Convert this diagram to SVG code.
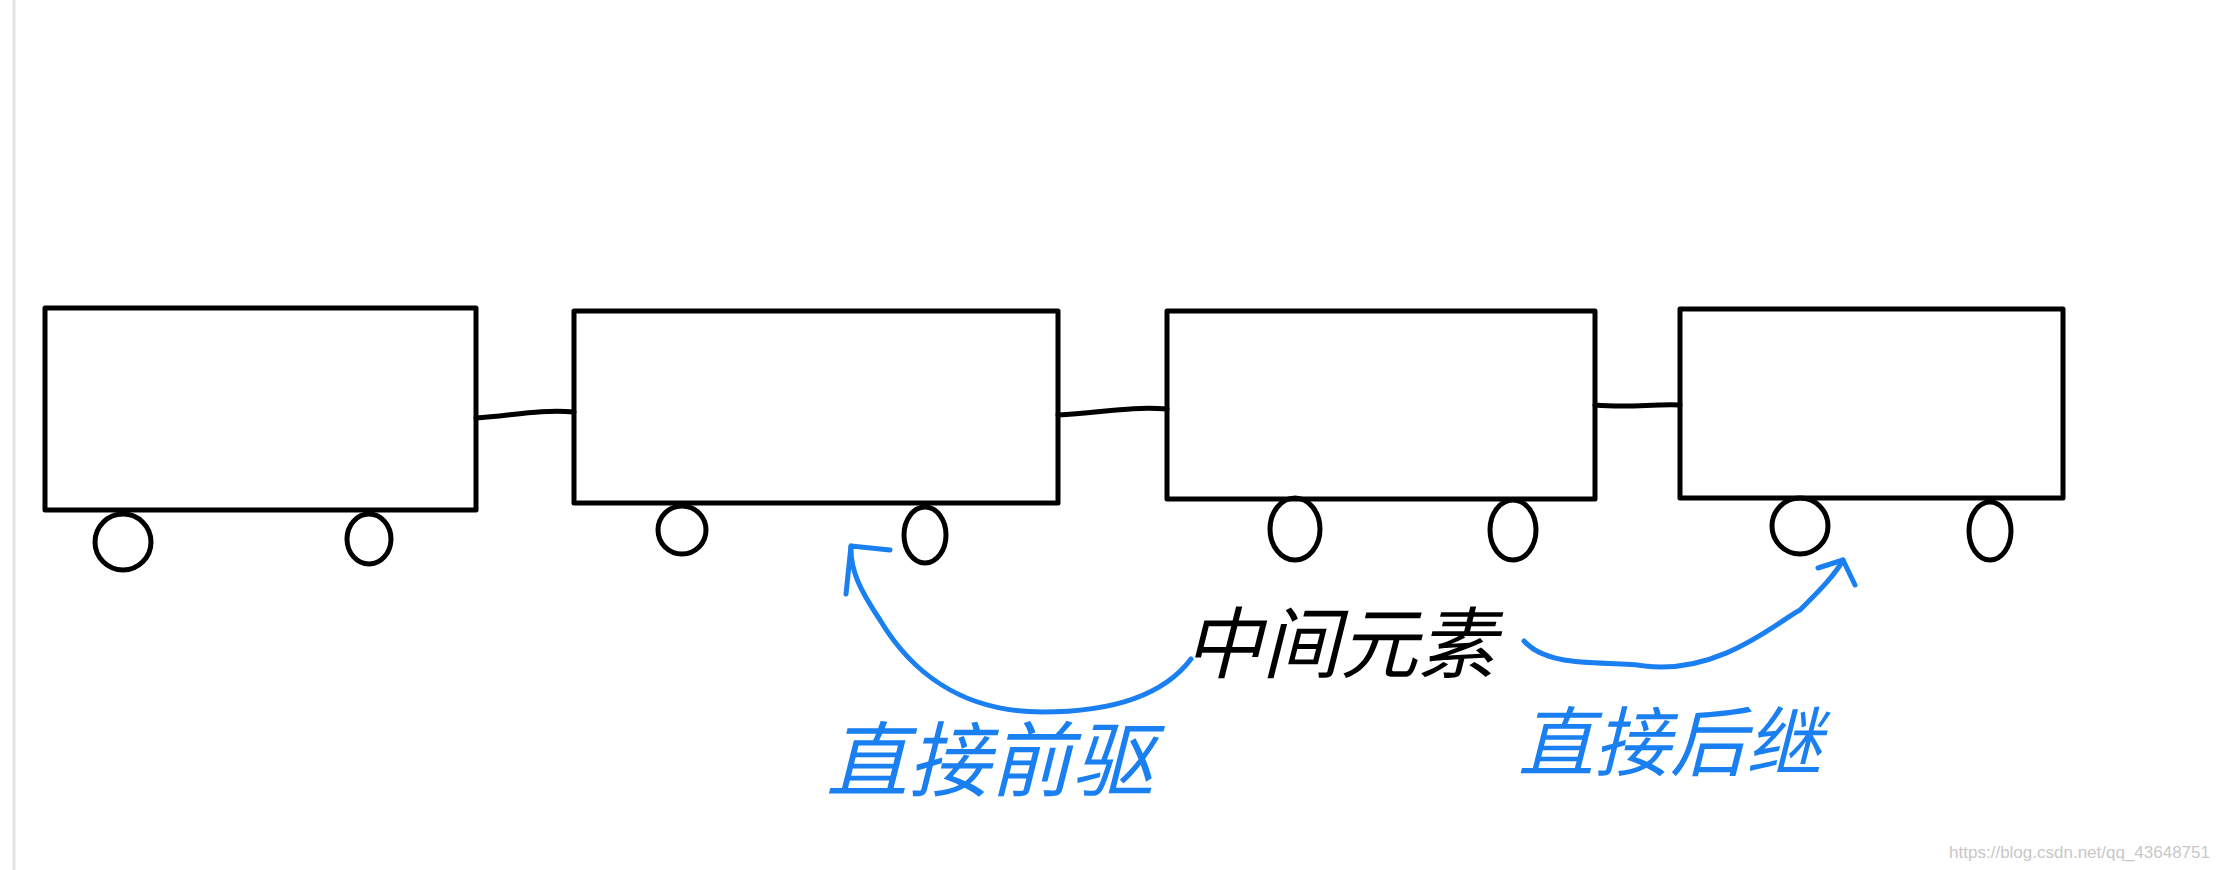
<svg xmlns="http://www.w3.org/2000/svg" width="2224" height="870" viewBox="0 0 2224 870">
<style>
.car{fill:none;stroke:#000;stroke-width:5;stroke-linejoin:round}
.wh{fill:none;stroke:#000;stroke-width:5}
.link{fill:none;stroke:#000;stroke-width:5;stroke-linecap:round}
.arc{fill:none;stroke:#1a7ff0;stroke-width:5;stroke-linecap:round;stroke-linejoin:round}
.hw{font-family:"Noto Sans CJK SC",sans-serif;font-style:italic}
</style>
<rect width="2224" height="870" fill="#fff"/>
<line x1="14" y1="0" x2="14" y2="870" stroke="#e4e4e4" stroke-width="3"/>
<g id="car1"><rect class="car" x="45" y="308" width="431" height="202"/><circle class="wh" cx="123" cy="542" r="28"/><ellipse class="wh" cx="369" cy="539" rx="22" ry="25"/></g>
<g id="car2"><rect class="car" x="574" y="311" width="484" height="192"/><circle class="wh" cx="682" cy="530" r="24"/><ellipse class="wh" cx="925" cy="535" rx="21" ry="28"/></g>
<g id="car3"><rect class="car" x="1167" y="311" width="428" height="188"/><ellipse class="wh" cx="1295" cy="529" rx="25" ry="31"/><ellipse class="wh" cx="1513" cy="530" rx="23" ry="30"/></g>
<g id="car4"><rect class="car" x="1680" y="309" width="383" height="189"/><circle class="wh" cx="1800" cy="526" r="28"/><ellipse class="wh" cx="1990" cy="531" rx="21" ry="29"/></g>
<g id="connectors">
<path class="link" d="M476,418 C510,416 540,409 574,412"/>
<path class="link" d="M1058,415 C1100,413 1130,406 1167,409"/>
<path class="link" d="M1595,405 C1630,408 1650,404 1680,405"/>
<path class="arc" d="M1191,659 C1160,700 1100,712 1042,712 C960,712 910,670 880,620 C860,590 850,570 851,546"/>
<path class="arc" d="M846,594 L851,546 L890,550"/>
<path class="arc" d="M1524,641 C1550,670 1610,660 1645,666 C1720,675 1780,620 1800,610 C1820,590 1835,575 1843,560"/>
<path class="arc" d="M1818,568 L1843,560 L1855,585"/>
</g>
<text class="hw" x="1340" y="672" font-size="78" text-anchor="middle" fill="#000">中间元素</text>
<text class="hw" x="990" y="790" font-size="82" text-anchor="middle" fill="#1a7ff0">直接前驱</text>
<text class="hw" x="1670" y="770" font-size="76" text-anchor="middle" fill="#1a7ff0">直接后继</text>
<text x="2210" y="858" font-family="Liberation Sans,sans-serif" font-size="17" text-anchor="end" fill="#c8c8c8">https://blog.csdn.net/qq_43648751</text>
</svg>
